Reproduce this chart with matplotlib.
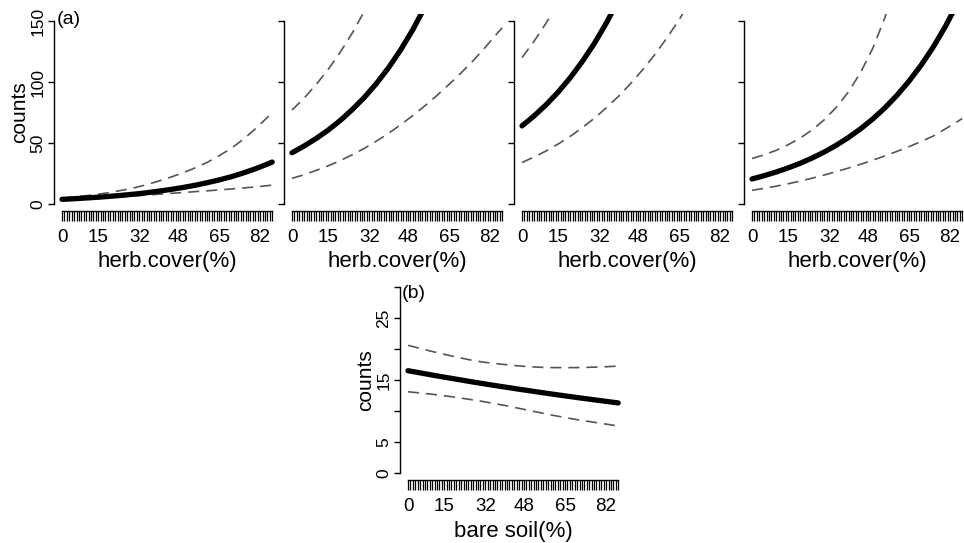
import matplotlib
matplotlib.use("Agg")
import matplotlib.pyplot as plt

plt.rcParams["font.family"] = ["Liberation Sans", "DejaVu Sans"]
plt.rcParams["lines.scale_dashes"] = False

# predictor grid (%)
cover = [0, 5, 10, 15, 20, 25, 30, 35, 40, 45, 50, 55, 60, 65, 70, 75, 80, 85, 87]
rug_values = list(range(88))
tick_values = [0, 15, 32, 48, 65, 82]

# (a) fitted counts vs herb cover, one panel per level
fit_a = [
    [3.8, 4.3, 4.9, 5.55, 6.3, 7.15, 8.1, 9.2, 10.5, 11.9, 13.5, 15.3, 17.4,
     19.7, 22.3, 25.4, 28.8, 32.7, 34.4],
    [42, 47.5, 53.7, 60.6, 68.5, 77.5, 87.5, 98.9, 111.8, 126.4, 142.9, 161.5,
     182.5, 206, 233, 264, 298, 337, 354],
    [64, 72.2, 81.4, 91.8, 103.6, 116.9, 131.8, 148.7, 167.7, 189.2, 213, 241,
     272, 306, 346, 390, 440, 496, 520],
    [20.5, 23.2, 26.2, 29.6, 33.4, 37.8, 42.7, 48.3, 54.6, 61.7, 69.7, 78.8,
     89.1, 100.7, 113.8, 128.6, 145.4, 164.3, 172.5],
]
upper_a = [
    [4.8, 5.7, 6.8, 8.0, 9.5, 11.3, 13.3, 15.8, 18.8, 22.0, 25.5, 29.5, 34.0,
     39.5, 45.5, 53.0, 61.5, 71.0, 75.0],
    [77, 86.8, 97.9, 110.4, 124.5, 140.3, 158.2, 178.4, 201, 227, 256, 288,
     325, 366, 413, 466, 525, 592, 620],
    [120, 133.4, 148.4, 165, 183.5, 204, 227, 252, 281, 312, 347, 386, 429,
     477, 531, 590, 656, 730, 761],
    [37.3, 40.3, 44.0, 48.6, 54.1, 60.9, 69.2, 79.5, 92.1, 108, 127.7, 152.7,
     184, 225, 277, 340, 420, 520, 565],
]
lower_a = [
    [3.2, 3.6, 4.1, 4.6, 5.2, 5.9, 6.6, 7.3, 8.0, 8.7, 9.4, 10.1, 10.8, 11.5,
     12.3, 13.1, 14.0, 15.0, 15.5],
    [21, 24, 27.5, 31.3, 35.6, 40.4, 45.7, 51.6, 58, 65, 72.5, 80.5, 89, 98,
     107.5, 117.5, 128.5, 140, 144.5],
    [34, 38.5, 43.5, 49.2, 55.5, 62.6, 70.4, 79, 88.4, 98.8, 110.2, 122.6,
     136.2, 151, 167, 185, 204, 225, 234],
    [11.2, 12.8, 14.6, 16.6, 18.8, 21.2, 23.8, 26.6, 29.5, 32.6, 35.9, 39.4,
     43.1, 47.0, 51.2, 55.7, 61.5, 67.5, 70.0],
]
yticks_a = [0, 50, 100, 150]

# (b) fitted counts vs bare soil
fit_b = [16.5, 16.15, 15.8, 15.46, 15.13, 14.8, 14.48, 14.17, 13.87, 13.57,
         13.28, 12.99, 12.71, 12.44, 12.17, 11.91, 11.65, 11.4, 11.3]
upper_b = [20.6, 20.1, 19.6, 19.15, 18.7, 18.3, 17.95, 17.7, 17.5, 17.3,
           17.15, 17.05, 17.0, 17.0, 17.0, 17.05, 17.1, 17.2, 17.3]
lower_b = [13.1, 12.9, 12.7, 12.45, 12.2, 11.9, 11.6, 11.25, 10.9, 10.5,
           10.1, 9.7, 9.3, 8.95, 8.6, 8.3, 8.0, 7.7, 7.6]
yticks_b = [0, 5, 10, 15, 20, 25, 30]
ylabels_b = ["0", "5", "", "15", "", "25", ""]

W, H = 964, 543
fig = plt.figure(figsize=(W / 100, H / 100), dpi=100)


def px_rect(left, top, right, bottom):
    return [left / W, 1 - bottom / H, (right - left) / W, (bottom - top) / H]


def style_axes(ax, ymax, yticks, ylabels, show_ylabels, xlab):
    pad_x = 0.04 * (rug_values[-1] - rug_values[0])
    ax.set_xlim(rug_values[0] - pad_x, rug_values[-1] + pad_x)
    ax.set_ylim(-0.04 * ymax, ymax * 1.04)
    for s in ("top", "right"):
        ax.spines[s].set_visible(False)
    ax.spines["left"].set_bounds(yticks[0], yticks[-1])
    ax.spines["bottom"].set_bounds(rug_values[0], rug_values[-1])
    for s in ("left", "bottom"):
        ax.spines[s].set_linewidth(1.0)
    ax.set_xticks(rug_values)
    ax.set_xticklabels([str(v) if v in tick_values else "" for v in rug_values])
    ax.tick_params(axis="x", direction="out", length=7.2, width=0.9,
                   pad=5.5, labelsize=13.5)
    ax.set_yticks(yticks)
    if show_ylabels:
        ax.set_yticklabels(ylabels)
    else:
        ax.set_yticklabels([""] * len(yticks))
    ax.tick_params(axis="y", direction="out", length=4, width=1.0,
                   pad=2, labelsize=12.5, labelrotation=90)
    for lab in ax.get_yticklabels():
        lab.set_va("center")
    ax.set_xlabel(xlab, fontsize=16, labelpad=4)
    ax.patch.set_visible(False)


def draw_curves(ax, fit, up, lo):
    for band in (up, lo):
        ax.plot(cover, band, color="#555555", lw=1.2, dashes=(8, 5))
    ax.plot(cover, fit, color="black", lw=3.8, solid_capstyle="round")


lefts = [53.6, 283.6, 513.6, 743.6]
for i, left in enumerate(lefts):
    ax = fig.add_axes(px_rect(left, 13.7, left + 227, 211.3))
    draw_curves(ax, fit_a[i], upper_a[i], lower_a[i])
    style_axes(ax, 150, yticks_a, [str(v) for v in yticks_a], i == 0,
               "herb.cover(%)")
    if i == 0:
        ax.set_ylabel("counts", fontsize=15, labelpad=0.5)

fig.text(57 / W, 1 - 19 / H, "(a)", fontsize=14, ha="left", va="center")

axb = fig.add_axes(px_rect(399.6, 279.6, 626.6, 480.4))
draw_curves(axb, fit_b, upper_b, lower_b)
style_axes(axb, 30, yticks_b, ylabels_b, True, "bare soil(%)")
axb.set_ylabel("counts", fontsize=15, labelpad=0.5)
fig.text(402 / W, 1 - 294 / H, "(b)", fontsize=14, ha="left", va="center")

fig.savefig("out.png", dpi=100)
